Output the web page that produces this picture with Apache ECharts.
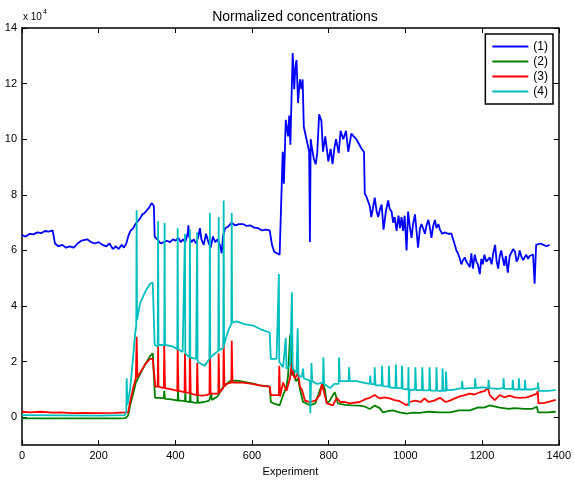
<!DOCTYPE html>
<html>
<head>
<meta charset="utf-8">
<script src="https://cdn.jsdelivr.net/npm/echarts@6/dist/echarts.min.js"></script>
<style>
  html, body { margin: 0; padding: 0; background: #fff; }
  #chart { width: 574px; height: 482px; }
</style>
</head>
<body>
<div id="chart"></div>
<script>
// values are in units of 10^4
const names = ['(1)', '(2)', '(3)', '(4)'];
const colors = ['#0000ff', '#008000', '#ff0000', '#00bfbf'];
const xTicks = [0, 200, 400, 600, 800, 1000, 1200, 1400];
const yTicks = [0, 2, 4, 6, 8, 10, 12, 14];

const s1X = [0, 10, 20, 30, 40, 50, 60, 70, 80, 84, 86, 95, 105, 115, 125, 135, 145, 155, 160, 170, 180, 190, 200, 210, 220, 228, 237, 245, 252, 260, 266, 272,
  278, 283, 290, 296, 302, 308, 314, 320, 326, 332, 338, 342, 344, 346, 356, 362, 370, 378, 386, 394, 400, 408, 414, 420, 426, 432, 434, 436, 442, 448, 454,
  460, 464, 468, 474, 480, 486, 492, 498, 504, 510, 516, 521, 524, 530, 537, 547, 556, 566, 576, 586, 596, 606, 616, 626, 636, 646, 649, 652, 658, 665, 672,
  677, 680, 683, 688, 694, 697, 700, 703, 706, 710, 713, 716, 720, 722, 725, 729, 732, 735, 742, 749, 751, 753, 755, 761, 766, 770, 775, 781, 785, 791, 799,
  805, 810, 815, 819, 826, 831, 838, 845, 851, 859, 865, 872, 880, 886, 892, 894, 898, 903, 907, 911, 915, 920, 925, 929, 934, 938, 943, 949, 955, 959, 964,
  968, 972, 977, 982, 986, 990, 994, 998, 1003, 1007, 1011, 1016, 1020, 1025, 1029, 1033, 1038, 1042, 1046, 1051, 1055, 1060, 1064, 1068, 1072, 1077, 1081,
  1086, 1090, 1096, 1103, 1111, 1120, 1129, 1133, 1137, 1142, 1146, 1150, 1155, 1159, 1163, 1168, 1172, 1176, 1181, 1185, 1189, 1194, 1198, 1202, 1206, 1211,
  1215, 1220, 1225, 1229, 1234, 1238, 1242, 1246, 1250, 1254, 1258, 1262, 1267, 1272, 1277, 1281, 1286, 1290, 1294, 1298, 1302, 1307, 1311, 1315, 1320, 1324,
  1329, 1333, 1337, 1341, 1343, 1346, 1352, 1360, 1368, 1376, 1384, 1392];
const s1Y = [6.55, 6.5, 6.6, 6.58, 6.65, 6.62, 6.7, 6.68, 6.72, 6.7, 6.25, 6.15, 6.2, 6.1, 6.15, 6.1, 6.25, 6.35, 6.3, 6.4, 6.3, 6.25, 6.3, 6.2, 6.15, 6.25, 6.05, 6.15, 6.05, 6.2, 6.1, 6.25,
  6.55, 6.7, 6.8, 6.95, 7.05, 7.15, 7.3, 7.35, 7.45, 7.55, 7.7, 7.75, 7.6, 6.5, 6.35, 6.25, 6.3, 6.35, 6.3, 6.4, 6.35, 6.45, 6.3, 6.4, 6.3, 6.6, 6.9, 6.5, 6.3, 6.4, 6.25,
  6.5, 6.8, 6.4, 6.2, 6.6, 6.3, 6.1, 6.5, 6.3, 6.4, 6.2, 5.9, 6.5, 6.8, 6.85, 7.0, 6.9, 6.95, 6.95, 6.88, 6.9, 6.82, 6.8, 6.72, 6.75, 6.72, 6.75, 6.2, 5.95, 5.9, 5.85,
  5.8, 9.55, 8.4, 10.7, 10.1, 10.85, 9.8, 11.5, 13.1, 11.8, 12.6, 12.85, 11.3, 11.7, 12.15, 11.8, 12.15, 10.45, 10.0, 9.55, 6.3, 10.0, 9.8, 9.3, 9.1, 9.5, 10.9, 10.65, 9.55, 10.1, 9.2,
  9.65, 9.1, 9.7, 10.0, 9.5, 10.3, 10.0, 10.3, 9.55, 10.2, 10.1, 10.0, 9.8, 9.65, 9.55, 8.05, 7.95, 7.9, 7.6, 7.2, 7.5, 7.9, 7.4, 7.2, 7.5, 7.65, 6.75, 7.4, 7.8, 7.5,
  7.4, 7.0, 7.2, 6.7, 7.25, 6.8, 7.2, 6.7, 7.25, 6.0, 7.4, 6.9, 6.45, 6.95, 7.3, 6.7, 6.1, 6.8, 6.95, 6.8, 6.6, 6.9, 7.1, 6.8, 6.45, 6.85, 7.1,
  6.8, 6.95, 6.75, 6.6, 6.65, 6.6, 6.6, 6.2, 6.0, 5.9, 5.7, 5.5, 5.65, 5.75, 5.6, 5.65, 5.4, 5.9, 5.35, 5.85, 5.6, 5.5, 5.15, 5.7, 5.5, 5.85,
  5.6, 5.6, 5.75, 5.5, 5.9, 6.2, 5.6, 5.35, 5.8, 6.0, 5.7, 5.45, 5.8, 5.2, 5.8, 5.75, 6.05, 5.95, 5.6, 5.7, 6.0, 5.8, 5.65, 5.75, 5.85,
  5.7, 5.8, 5.8, 5.85, 4.8, 6.2, 6.15, 6.2, 6.25, 6.2, 6.15, 6.2];

const s2X = [0, 50, 100, 150, 200, 250, 270, 277, 282, 290, 297, 308, 321, 334, 341, 345, 347, 352, 360, 370, 371, 372, 373, 385, 400, 406, 407, 408, 416, 425, 426, 427,
  438, 439, 440, 450, 457, 458, 459, 464, 475, 488, 493, 494, 495, 500, 510, 516, 525, 533, 542, 560, 576, 600, 620, 646, 649, 651, 660, 672, 681, 690, 694,
  699, 701, 704, 707, 714, 720, 725, 733, 742, 751, 765, 774, 779, 785, 790, 795, 803, 811, 816, 821, 824, 830, 842, 860, 881, 895, 907, 920, 933, 941, 955,
  967, 985, 1003, 1020, 1037, 1060, 1089, 1116, 1140, 1168, 1190, 1205, 1220, 1246, 1270, 1285, 1311, 1330, 1343, 1346, 1348, 1370, 1392];
const s2Y = [-0.04, -0.04, -0.04, -0.04, -0.04, -0.04, -0.03, 0.07, 0.43, 0.85, 1.25, 1.55, 1.9, 2.2, 2.3, 2.35, 0.7, 0.68, 0.7, 0.68, 0.95, 0.95, 0.66, 0.65, 0.62, 0.6, 0.95, 0.6, 0.6, 0.58, 0.9, 0.57,
  0.55, 0.9, 0.55, 0.53, 0.52, 0.85, 0.52, 0.5, 0.55, 0.6, 0.6, 0.85, 0.62, 0.62, 0.75, 0.9, 1.1, 1.2, 1.3, 1.32, 1.28, 1.22, 1.15, 1.1, 0.55, 0.5, 0.48, 0.43, 0.8, 1.1, 1.5,
  2.9, 3.0, 1.5, 1.75, 1.3, 1.4, 1.0, 0.55, 0.5, 0.43, 0.5, 0.85, 1.05, 1.2, 1.0, 0.5, 0.6, 0.8, 0.9, 0.95, 0.5, 0.48, 0.45, 0.43, 0.42, 0.38, 0.3, 0.42, 0.33, 0.18, 0.22,
  0.25, 0.18, 0.13, 0.17, 0.16, 0.2, 0.18, 0.18, 0.25, 0.25, 0.36, 0.35, 0.43, 0.35, 0.3, 0.33, 0.3, 0.3, 0.38, 0.18, 0.15, 0.18, 0.2];

const s3X = [0, 20, 50, 80, 100, 130, 160, 200, 240, 277, 282, 290, 297, 299, 301, 308, 321, 334, 341, 346, 348, 354, 355, 356, 370, 371, 373, 390, 405, 406, 408, 416,
  424, 425, 427, 437, 438, 440, 456, 457, 459, 468, 480, 489, 490, 492, 505, 512, 513, 515, 525, 526, 528, 533, 546, 547, 549, 560, 576, 600, 620, 646, 649,
  664, 670, 671, 673, 681, 690, 694, 699, 704, 708, 712, 720, 725, 730, 738, 751, 765, 777, 782, 786, 790, 795, 811, 821, 830, 842, 855, 881, 895, 907, 920,
  933, 945, 959, 972, 985, 1003, 1011, 1025, 1040, 1050, 1060, 1075, 1090, 1105, 1116, 1129, 1142, 1155, 1168, 1180, 1194, 1207, 1215, 1220, 1233, 1246,
  1258, 1272, 1285, 1298, 1316, 1330, 1343, 1345, 1347, 1363, 1380, 1392];
const s3Y = [0.2, 0.18, 0.2, 0.17, 0.18, 0.15, 0.16, 0.15, 0.16, 0.18, 0.55, 1.05, 1.4, 2.9, 1.45, 1.6, 1.9, 2.1, 2.1, 2.1, 1.1, 1.1, 2.6, 1.1, 1.05, 2.6, 1.05, 1.0, 0.95, 2.55, 0.95, 0.93,
  0.9, 2.3, 0.9, 0.88, 2.6, 0.85, 0.8, 1.95, 0.8, 0.78, 0.8, 0.83, 2.75, 0.85, 0.85, 0.85, 2.3, 0.9, 1.05, 2.8, 1.1, 1.2, 1.25, 2.75, 1.25, 1.25, 1.25, 1.2, 1.15, 1.1, 0.8,
  0.8, 0.8, 1.85, 0.75, 1.25, 0.95, 1.0, 1.4, 1.95, 1.5, 1.4, 1.6, 1.1, 1.0, 0.6, 0.55, 0.6, 0.8, 1.2, 1.0, 0.95, 0.5, 0.43, 0.7, 0.55, 0.55, 0.5, 0.55, 0.65, 0.7, 0.8,
  0.68, 0.72, 0.68, 0.62, 0.58, 0.43, 0.55, 0.6, 0.55, 0.68, 0.55, 0.6, 0.7, 0.55, 0.6, 0.68, 0.75, 0.8, 0.85, 0.82, 0.9, 0.95, 1.05, 0.8, 0.62, 0.8,
  0.72, 0.78, 0.72, 0.7, 0.72, 0.78, 0.85, 0.95, 0.5, 0.52, 0.58, 0.63];

const s4X = [0, 100, 200, 268, 272, 273, 275, 282, 290, 295, 298, 299, 300, 308, 321, 334, 341, 344, 346, 354, 355, 356, 371, 372, 373, 393, 405, 406, 407, 419, 424, 425,
  426, 437, 438, 439, 454, 456, 457, 458, 476, 489, 490, 491, 500, 512, 513, 514, 525, 526, 527, 535, 542, 546, 547, 548, 560, 580, 603, 625, 646, 649, 664,
  669, 670, 671, 681, 686, 688, 690, 699, 703, 704, 706, 716, 719, 721, 730, 733, 735, 745, 751, 752, 754, 755, 757, 769, 785, 786, 788, 803, 815, 826, 827,
  829, 834, 852, 853, 855, 873, 890, 907, 908, 910, 919, 920, 922, 938, 939, 941, 956, 957, 959, 974, 975, 977, 990, 991, 993, 1007, 1008, 1009, 1011, 1025,
  1026, 1028, 1043, 1044, 1046, 1062, 1063, 1065, 1080, 1081, 1083, 1096, 1097, 1099, 1105, 1106, 1108, 1130, 1147, 1148, 1150, 1165, 1181, 1182, 1184, 1200,
  1216, 1217, 1219, 1240, 1255, 1256, 1258, 1279, 1280, 1282, 1295, 1296, 1298, 1311, 1312, 1314, 1330, 1345, 1346, 1348, 1370, 1392];
const s4Y = [0.08, 0.07, 0.06, 0.08, 0.2, 1.4, 0.45, 1.0, 2.2, 3.0, 3.3, 7.45, 3.5, 4.1, 4.5, 4.8, 4.85, 4.8, 2.6, 2.55, 7.05, 2.6, 2.6, 7.0, 2.6, 2.55, 2.45, 6.8, 2.45, 2.35, 2.3, 6.6,
  2.3, 2.15, 6.75, 2.15, 2.1, 2.05, 6.65, 2.0, 1.85, 2.1, 7.35, 2.15, 2.25, 2.4, 7.2, 2.4, 2.5, 7.8, 2.6, 3.0, 3.25, 3.35, 7.35, 3.4, 3.45, 3.35, 3.3, 3.15, 3.05, 2.1, 2.1,
  2.05, 5.15, 2.0, 1.8, 1.85, 2.85, 1.75, 1.85, 1.8, 4.5, 1.75, 1.6, 3.2, 1.5, 1.45, 1.75, 1.4, 1.35, 1.3, 0.15, 1.3, 1.95, 1.3, 1.2, 1.25, 2.15, 1.2, 1.05, 1.2, 1.2, 2.15,
  1.3, 1.35, 1.3, 1.8, 1.3, 1.3, 1.25, 1.2, 1.5, 1.2, 1.18, 1.8, 1.15, 1.15, 1.85, 1.12, 1.1, 1.85, 1.08, 1.05, 1.9, 1.05, 1.05, 1.85, 1.02, 1.0, 1.8, 0.4, 0.98, 1.0,
  1.8, 0.98, 0.98, 1.8, 0.97, 0.97, 1.8, 0.96, 0.96, 1.8, 0.95, 0.95, 1.75, 0.95, 0.95, 1.65, 0.97, 1.0, 1.05, 1.3, 1.02, 1.05, 1.05, 1.4, 1.05, 1.08,
  1.05, 1.35, 1.05, 1.02, 1.05, 1.4, 1.02, 1.02, 1.35, 1.0, 1.0, 1.4, 1.0, 1.0, 1.35, 1.0, 1.0, 1.05, 1.25, 0.95, 0.95, 0.98];

function zip(xs, ys) {
  return xs.map((x, i) => [x, ys[i]]);
}

const chart = echarts.init(document.getElementById('chart'), null, { renderer: 'canvas' });
const font = 'Liberation Sans, Arial, Helvetica, sans-serif';

const axisLine = { show: true, onZero: false, lineStyle: { color: '#000', width: 1.5 } };
const tick = { show: true, inside: true, length: 5, lineStyle: { color: '#000' } };
const plain = v => String(v);

const option = {
  animation: false,
  backgroundColor: '#fff',
  textStyle: { fontFamily: font },
  title: {
    text: 'Normalized concentrations',
    left: 290,
    textAlign: 'center',
    top: 5,
    textStyle: { fontFamily: font, fontSize: 14, fontWeight: 'normal', color: '#000' }
  },
  grid: { left: 22, right: 15, top: 28, bottom: 31, show: false },
  legend: {
    data: names,
    orient: 'vertical',
    right: 21,
    top: 34,
    icon: 'rect',
    itemWidth: 36,
    itemHeight: 2,
    itemGap: 2,
    padding: [6, 5, 6, 7],
    borderColor: '#000',
    borderWidth: 1.5,
    backgroundColor: '#fff',
    textStyle: { fontFamily: font, fontSize: 12, color: '#000', lineHeight: 13 }
  },
  xAxis: [
    {
      type: 'value', min: 0, max: 1400, interval: 200, position: 'bottom',
      axisLine: axisLine, axisTick: tick, splitLine: { show: false },
      axisLabel: { color: '#000', fontSize: 11, margin: 5, fontFamily: font, formatter: plain },
      name: 'Experiment', nameLocation: 'middle', nameGap: 19,
      nameTextStyle: { color: '#000', fontSize: 11, fontFamily: font }
    },
    {
      type: 'value', min: 0, max: 1400, interval: 200, position: 'top',
      axisLine: axisLine, axisTick: tick, splitLine: { show: false },
      axisLabel: { show: false }
    }
  ],
  yAxis: [
    {
      type: 'value', min: -1, max: 14, interval: 1, position: 'left',
      axisLine: axisLine, splitLine: { show: false },
      axisTick: Object.assign({ customValues: yTicks }, tick),
      axisLabel: { customValues: yTicks, color: '#000', fontSize: 11, margin: 5, fontFamily: font, formatter: plain }
    },
    {
      type: 'value', min: -1, max: 14, interval: 1, position: 'right',
      axisLine: axisLine, splitLine: { show: false },
      axisTick: Object.assign({ customValues: yTicks }, tick),
      axisLabel: { show: false }
    }
  ],
  graphic: [
    {
      type: 'text', left: 23, top: 9,
      style: {
        text: '{a|x 10}{b|4}',
        rich: {
          a: { fontFamily: font, fontSize: 10, fill: '#000', verticalAlign: 'bottom' },
          b: { fontFamily: font, fontSize: 7, fill: '#000', verticalAlign: 'top', padding: [0, 0, 6, 1] }
        }
      }
    }
  ],
  series: [
    { name: names[0], data: zip(s1X, s1Y) },
    { name: names[1], data: zip(s2X, s2Y) },
    { name: names[2], data: zip(s3X, s3Y) },
    { name: names[3], data: zip(s4X, s4Y) }
  ].map((s, i) => Object.assign({
    type: 'line',
    showSymbol: false,
    symbol: 'none',
    color: colors[i],
    lineStyle: { color: colors[i], width: 1.8 },
    xAxisIndex: 0,
    yAxisIndex: 0
  }, s))
};

chart.setOption(option);
</script>
</body>
</html>
